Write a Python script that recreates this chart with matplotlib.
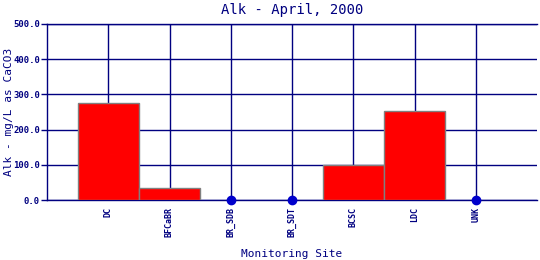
import matplotlib.pyplot as plt
import numpy as np

sites = ["DC", "BFCaBR", "BR_SDB", "BR_SDT", "BCSC", "LDC", "UNK"]
alk = [275.0, 34.0, 0.0, 0.0, 100.0, 253.0, 0.0]
y_ticks = [0, 100, 200, 300, 400, 500]

navy = "#000080"
mono = "DejaVu Sans Mono"

fig = plt.figure(figsize=(5.4, 2.6), dpi=100)
ax = fig.add_axes([47 / 540, 60 / 260, 490 / 540, 176 / 260])

x = np.arange(len(sites))
vals = np.array(alk)
nz = vals > 0
ax.bar(x[nz], vals[nz], width=1.0, color="#ff0000", edgecolor="#808080",
       linewidth=1.0, zorder=3)
ax.plot(x[~nz], vals[~nz], "o", color="#0000cc", markersize=6, zorder=4,
        clip_on=False)

ax.set_xlim(-1, 7)
ax.set_ylim(0, 500)
ax.set_xticks(x)
ax.set_xticklabels(sites, rotation=90, fontsize=6, family=mono, color=navy,
                   fontweight="bold")
ax.set_yticks(y_ticks)
ax.set_yticklabels([f"{v:.1f}" for v in y_ticks], fontsize=6.5,
                   family=mono, color=navy, fontweight="bold")
ax.tick_params(axis="x", length=0, pad=5)
ax.tick_params(axis="y", length=4, width=1, color=navy, pad=1)
ax.grid(True, color=navy, linewidth=1.0, zorder=1)
ax.set_axisbelow(True)

ax.spines["right"].set_visible(False)
for side in ["left", "top", "bottom"]:
    ax.spines[side].set_color(navy)
    ax.spines[side].set_linewidth(1.0)

cx = (47 + 537) / 2 / 540
fig.text(cx, 1 - 10 / 260, "Alk - April, 2000", ha="center", va="center",
         fontsize=10, family=mono, color=navy)
fig.text(cx, 1 - 254 / 260, "Monitoring Site", ha="center", va="center",
         fontsize=8, family=mono, color=navy)
fig.text(9 / 540, 0.5 * (60 + 236) / 260, "Alk - mg/L as CaCO3", ha="center",
         va="center", rotation=90, fontsize=8, family=mono, color=navy)

fig.savefig("out.png", dpi=100)
